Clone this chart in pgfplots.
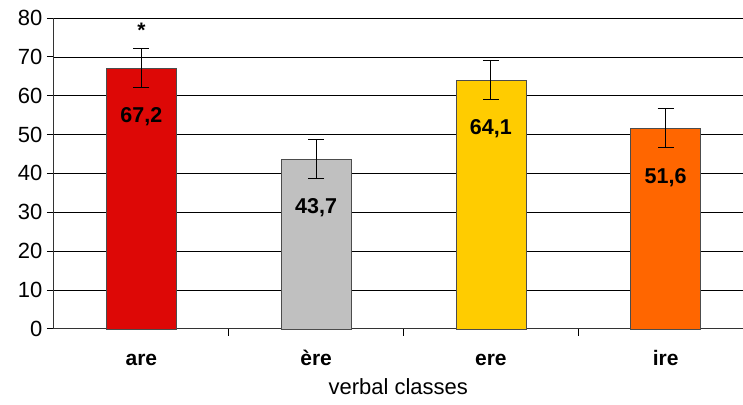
\documentclass[border=0pt]{standalone}
\usepackage{pgfplots}
\usepackage{pgfplotstable}
\pgfplotsset{compat=1.18}
\usepackage{fontspec}
\setmainfont{Liberation Sans}

\definecolor{cAre}{HTML}{DD0806}
\definecolor{cEre}{HTML}{C0C0C0}
\definecolor{cEreb}{HTML}{FFCC00}
\definecolor{cIre}{HTML}{FF6600}

\begin{document}
\begin{tikzpicture}
\begin{axis}[
  scale only axis,
  width=689pt, height=311pt,
  ymin=0, ymax=80, ytick={0,10,...,80},
  xmin=-0.5, xmax=3.44,
  xtick={0,1,2,3},
  xticklabels={\textbf{are},\textbf{ère},\textbf{ere},\textbf{ire}},
  minor xtick={0.5,1.5,2.5},
  axis lines=left,
  axis line style={-, line width=1pt, black!80},
  tick align=outside,
  x tick style={draw=none},
  minor x tick style={draw=black, line width=0.8pt},
  minor tick length=7pt,
  major tick length=7pt,
  y tick style={black, line width=0.8pt},
  ymajorgrids,
  major grid style={black, line width=0.6pt},
  /pgf/number format/assume math mode=true,
  tick label style={font=\fontsize{22}{24}\selectfont},
  yticklabel style={xshift=-1pt},
  xticklabel style={anchor=base, yshift=-30pt, font=\fontsize{21}{24}\selectfont},
  xlabel={verbal classes},
  xlabel style={font=\fontsize{22}{24}\selectfont, yshift=-6pt},
  ybar, bar width=70pt, bar shift=0pt,
  clip=false,
  nodes near coords,
  nodes near coords style={font=\bfseries\fontsize{21.5}{24}\selectfont, anchor=center, yshift=-49pt,
    /pgf/number format/.cd, fixed, precision=1, fixed zerofill, use comma, assume math mode=true},
  error bars/y dir=both, error bars/y explicit,
  error bars/error bar style={black, line width=0.8pt},
  error bars/error mark options={rotate=90, black, mark size=8pt, line width=0.8pt},
]
\addplot[fill=cAre, draw=black!70] table[x=x, y=y, y error=e] {
x y e
0 67.2 5.0
};
\addplot[fill=cEre, draw=black!70] table[x=x, y=y, y error=e] {
x y e
1 43.7 5.0
};
\addplot[fill=cEreb, draw=black!70] table[x=x, y=y, y error=e] {
x y e
2 64.1 5.0
};
\addplot[fill=cIre, draw=black!70] table[x=x, y=y, y error=e] {
x y e
3 51.6 5.0
};
\node[font=\bfseries\fontsize{21}{24}\selectfont] at (axis cs:0,76.8) {*};
\path (rel axis cs:-0.0784,-0.2444) rectangle (rel axis cs:1,1.0579);
\end{axis}
\end{tikzpicture}
\end{document}
